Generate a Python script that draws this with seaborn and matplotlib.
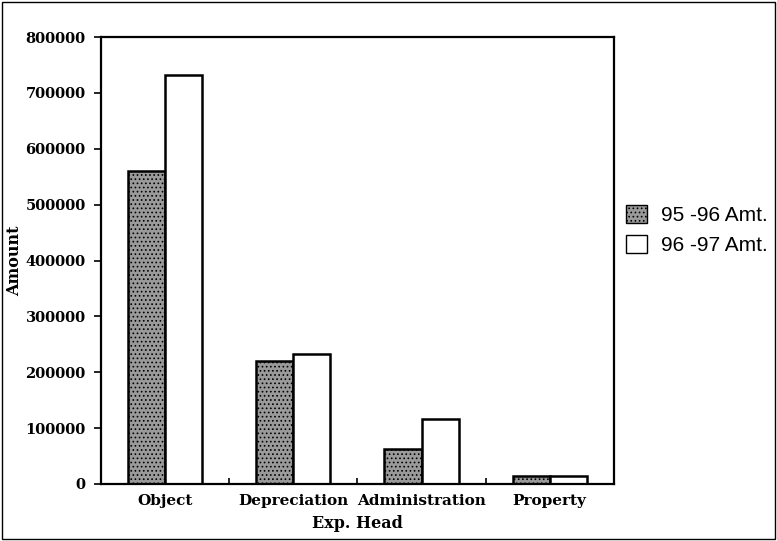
import matplotlib
matplotlib.use("Agg")
import matplotlib.pyplot as plt
import seaborn as sns
import pandas as pd
from matplotlib.patches import Patch, Rectangle

# Data
heads = ["Object", "Depreciation", "Administration", "Property"]
amt_95_96 = [561000, 220000, 63000, 14000]
amt_96_97 = [732000, 232000, 116000, 13500]
series = ["95 -96 Amt.", "96 -97 Amt."]

df = pd.DataFrame({
    "Exp. Head": heads * 2,
    "Amount": amt_95_96 + amt_96_97,
    "Series": [series[0]] * len(heads) + [series[1]] * len(heads),
})

sns.set_theme(style="white")
plt.rcParams["font.family"] = ["DejaVu Serif"]
plt.rcParams["text.color"] = "black"
plt.rcParams["xtick.color"] = "black"
plt.rcParams["ytick.color"] = "black"
plt.rcParams["axes.labelcolor"] = "black"
plt.rcParams["hatch.linewidth"] = 0.7

fig = plt.figure(figsize=(7.77, 5.41), dpi=100)
ax = fig.add_axes([0.130, 0.1054, 0.660, 0.826])

colors = {series[0]: "#9a9a9a", series[1]: "white"}
sns.barplot(data=df, x="Exp. Head", y="Amount", hue="Series", palette=colors,
            width=0.58, gap=0, edgecolor="black", linewidth=1.8, ax=ax,
            legend=False)

for p in ax.patches:
    if p.get_facecolor()[0] < 0.9:
        p.set_hatch("....")

ax.set_ylim(0, 800000)
ax.set_yticks(range(0, 800001, 100000))
ax.set_yticklabels([str(v) for v in range(0, 800001, 100000)],
                   fontweight="bold", fontsize=10.5)
ax.set_xticks(range(len(heads)))
ax.set_xticklabels(heads, fontweight="bold", fontsize=11)
ax.set_xticks([0.5, 1.5, 2.5], minor=True)
ax.tick_params(axis="y", direction="out", length=5, width=1.2, left=True, pad=6)
ax.tick_params(axis="x", which="major", length=0, pad=7)
ax.tick_params(axis="x", which="minor", direction="in", length=4, width=1.2, bottom=True)
ax.set_xlabel("Exp. Head", fontweight="bold", fontsize=11.5, labelpad=5)
ax.set_ylabel("Amount", fontweight="bold", fontsize=11.5, labelpad=2)
for s in ax.spines.values():
    s.set_color("black")
    s.set_linewidth(1.6)

handles = [Patch(facecolor=colors[s], edgecolor="black", linewidth=1.0,
                 hatch="...." if s == series[0] else None) for s in series]
fig.legend(handles, series, loc="center left", bbox_to_anchor=(0.806, 0.575),
           frameon=False, prop={"family": "Liberation Sans", "size": 15},
           handlelength=1.0, handleheight=1.0, handletextpad=0.65,
           labelspacing=0.45, borderpad=0, borderaxespad=0)

fig.patches.append(Rectangle((0.003, 0.003), 0.994, 0.994, transform=fig.transFigure,
                             fill=False, edgecolor="black", linewidth=1.0))

fig.savefig("out.png", dpi=100)
